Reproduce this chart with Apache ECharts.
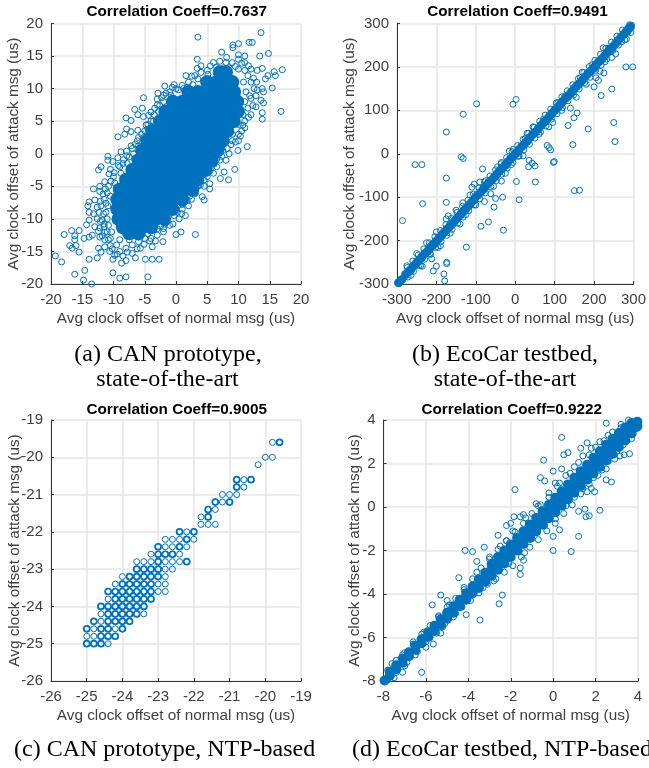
<!DOCTYPE html>
<html><head><meta charset="utf-8">
<style>html,body{margin:0;padding:0;background:#fff}#c{width:649px;height:768px}</style>
<script src="https://cdn.jsdelivr.net/npm/echarts@6/dist/echarts.min.js"></script>
</head><body><div id="c"></div>
<script>
// Panel (a): readable open markers
const aOpen = [[-19.3,-15.7],[-18.3,-16.6],[-17.9,-12.4],[-16.7,-11.8],[-15.5,-11.8],[-16.2,-12.6],[-16.2,-13.2],[-17,-14.1],[-16.6,-14.5],[-16,-14.1],[-15.5,-15.1],[-16.2,-18.5],[-14.6,-17.9],[-14.8,-19.4],[-13.5,-20],[-13.9,-16.2],[-12.6,-16],[-10.1,-16.2],[-10.1,-18.3],[-9,-19.1],[-8,-18.9],[-4.5,-18.9],[-4.9,-16.2],[-3.8,-16.2],[-2.7,-16.2],[-8.7,-16.8],[-8,-16.4],[-6.5,-16],[3.1,-12.4],[0,-12.4],[0.8,-12],[-5.7,-14.5],[-3.8,-14.3],[-2.1,-13.5],
[3.5,17.9],[13.6,18.6],[11.7,17.1],[12.2,17.1],[10,16.9],[9.1,16.7],[9.1,16.3],[7.3,15.6],[14.8,15.4],[13.4,15],[10,15.2],[11,15],[3.4,14.5],[8.1,14.8],[17,12.9],[15.7,12.6],[15.9,12],[14.7,12],[14.3,11.5],[13.8,13.1],[13,12.8],[15.4,10.1],[16.8,6.5],[13.8,5.3],[13.8,6.3],[14,7.8],[13.6,8.2],[12.8,7.2],[13.8,10],[14,9.5],[13,9.8],[11.4,1.1],[9.9,0.5],[9.4,-2.4],[7.7,-2.8],[8.4,-4],[7.1,-3.8],[5.4,-4.6],[5.4,-5.4],[4.5,-7.1],[4.2,-6.6],[3.1,-6.1],
[-5.2,8.6],[-6.6,6.8],[-5.4,7],[-8,5.5],[-7.2,5.1],[-6.1,6],[-5.2,5.7],[-4,6.4],[-4.4,5.9],[-9.3,2.6],[-7.9,3.8],[-8.2,3],[-7.2,3.4],[-6.1,3.6],[-2.9,9.3],[-3,8.4],[-1.8,10.4],[-0.3,10.6],[1.6,12],[2.5,11.9],[3.4,13.1],[4,13.5],[-10.9,-0.4],[-10.9,-1],[-10.1,-1.2],[-9.3,-0.6],[-7.9,-0.3],[-8.8,0.3],[-12,-2],[-12.4,-2.5],[-10.5,-2.4],[-10.7,-3.1],[-11.4,-4.3],[-12.2,-5],[-13.2,-5.4],[-12.2,-5.8],[-13.9,-7.4],[-14.1,-8],[-13,-7.1],[-13.9,-9],[-13.2,-9.2],[-13.9,-10.2],[-14.3,-10.9],[-13,-11.2],[-12.1,-10.4],[-11.6,-9.2],[-11.2,-7.6],[-14.7,-13],[-13.4,-12.5],[-13.9,-12.8],[-12.2,-12.8],[-11.8,-12.6],[-12.4,-14.5],[-12,-15.1],[-11.4,-14.3],[-10.5,-14.1],
[9,2],[8.5,0],[8,-1],[7,-1],[6.5,-2],[6,-3],[5,-3.5],[4.5,-5],[3.5,-5],[3,-6],[2.5,-7],[2,-8],[1,-8.5],[1.5,-9.5],[0.5,-10],[-0.5,-10.8],[-1,-11],[-2,-11.5],[-2,-12],[-3,-12.5],[-4,-13],[-5,-13],[-6,-13.5],[-7,-14],[-8,-14.5],[-9,-15],[-8.5,-15.7],[-9.5,-14],[-10.5,-13],[-11,-12],[-11.5,-11.2],
[12,13],[11,14],[10,14.5],[9,14],[8,14],[7,14.2],[6,14],[5.5,13.5],[11.5,12],[12,11],[12.5,10],[12,8.5],[11.5,7],[12,6],[11,5],[11,4],[10.5,3.5],[10,3],[9.5,1.8],[10,2],
[4,12.5],[3,12],[2,11],[1,10.5],[0,10],[-1,9.5],[-2,9],[-3,7.5],[-3.5,6],[-4.5,4.5],[-5,3.5],[-6,2.5],[-6.5,1.5],[-7,0.8],[-7.5,-0.5],[-8.5,-1.5],[-9,-2],[-10,-3.5],[-10.8,-5],[-11,-6],[-11.5,-7],[-12,-8],[-12.3,-9],[-11,-10],[-11.5,-10.8],
[10.8,11],[11.2,9.5],[11,8],[10.7,6],[10,4.5],[9,3],[7.5,0.5],[6.5,-0.8],[5.5,-2.5],[4.5,-4],[3.2,-5.2],[2.2,-6.5],[1,-7.8],[-0.3,-9.5],[-1.5,-10.5],[-3,-11.5],[-4.5,-12.3],[-6,-12.8],[-7.5,-13.2],[-9,-13.2],[-10.3,-12],[-10.8,-11],[-11.2,-9],[-10.9,-8],[-10.5,-6.5],[-9.8,-4.5],[-8.8,-3],[-7.8,-1.5],[-6.8,0],[-6,1.2],[-5.2,2.5],[-4.5,3.8],[-3.6,5],[-2.8,6.5],[-2,8],[-0.8,9],[1.2,10],[3.5,11.5],[5,12.8],[6.5,13.3],[8.5,13.2],[10,13],[11,12.8],
[-11.4,-12.1],[-10.8,-13.2],[-10.2,-14.6],[-9.4,-15.4],[-7.8,-15.1],[-7,-15.3],[-6.2,-14.6],[-5.1,-13.9],[-4.2,-13.4],[-3.3,-13.4],[-2.5,-11.1],[-1.8,-10.8],[0.2,-9],[0.9,-9.2],[1.8,-7.2],[2.9,-5.1],[3.9,-4.8],[5.2,-2.8],[6.1,-1.6],[7.3,-0.4],[8.2,0.8],[8.8,1.4],[10.3,2.7],[10.7,4.4],[11.6,5.6],[12.3,7.4],[11.8,8.9],[12.8,8.9],[12.4,11.6],[12.9,11],[11.6,13.5],[10.5,13.9],[9.5,13.4],[7.6,13.2],[5.1,12.2],[4.4,11.1],[2.7,10.6],[1.8,10.2],[0.4,9.8],[-0.6,10.2],[-1.6,9.3],[-2.3,8.6],[-2.6,7.4],[-3.4,7],[-4,5],[-4.8,4.4],[-5.5,3],[-6.2,2],[-7.2,1.2],[-7.9,0.4],[-8.4,-0.9],[-9.2,-1.8],[-9.9,-2.9],[-10.4,-4.2],[-11.3,-5.4],[-11.7,-6.2],[-12.1,-7.3],[-12.6,-8.2],[-12.6,-10],[-12.2,-11.4],[-11.8,-10.2],[-12.4,-11.9],[-11.4,-13.2],[-10.6,-15],[-9.8,-15.6]
];
// Panel (a): overlapping mass, where single markers merge
const aMass = [[7,12.5],[8,12.5],[5,11],[6.5,11],[8,11],[9,11],[2,9.5],[3.5,9.5],[5,9.5],[6.5,9.5],[8,9.5],[9.3,9.5],[-0.5,8],[1,8],[2.5,8],[4,8],[5.5,8],[7,8],[8.5,8],[9.8,8],[-1.7,6.5],[-0.2,6.5],[1.3,6.5],[2.8,6.5],[4.3,6.5],[5.8,6.5],[7.3,6.5],[8.8,6.5],[9.9,6.5],[-2.5,5],[-1,5],[0.5,5],[2,5],[3.5,5],[5,5],[6.5,5],[8,5],[9.2,5],[-3.8,3.5],[-2.3,3.5],[-0.8,3.5],[0.7,3.5],[2.2,3.5],[3.7,3.5],[5.2,3.5],[6.7,3.5],[8.2,3.5],[-4.6,2],[-3.1,2],[-1.6,2],[-0.1,2],[1.4,2],[2.9,2],[4.4,2],[5.9,2],[7.4,2],[-5.4,0.5],[-3.9,0.5],[-2.4,0.5],[-0.9,0.5],[0.6,0.5],[2.1,0.5],[3.6,0.5],[5.1,0.5],[6.6,0.5],[-6,-1],[-4.5,-1],[-3,-1],[-1.5,-1],[0,-1],[1.5,-1],[3,-1],[4.5,-1],[5.7,-1],[-7,-2.5],[-5.5,-2.5],[-4,-2.5],[-2.5,-2.5],[-1,-2.5],[0.5,-2.5],[2,-2.5],[3.5,-2.5],[4.7,-2.5],[-8,-4],[-6.5,-4],[-5,-4],[-3.5,-4],[-2,-4],[-0.5,-4],[1,-4],[2.5,-4],[3.4,-4],[-9,-5.5],[-7.5,-5.5],[-6,-5.5],[-4.5,-5.5],[-3,-5.5],[-1.5,-5.5],[0,-5.5],[1.5,-5.5],[2.6,-5.5],[-9.4,-7],[-7.9,-7],[-6.4,-7],[-4.9,-7],[-3.4,-7],[-1.9,-7],[-0.4,-7],[1,-7],[-9.4,-8.5],[-7.9,-8.5],[-6.4,-8.5],[-4.9,-8.5],[-3.4,-8.5],[-1.9,-8.5],[-0.6,-8.5],[-9.2,-10],[-7.7,-10],[-6.2,-10],[-4.7,-10],[-3.2,-10],[-1.9,-10],[-8.5,-11.3],[-7,-11.3],[-5.5,-11.3],[-4,-11.3],[-7.5,-12.2],[-6,-12.2]];

// Panel (b)
const bOpen = [[298,200],[281,200],[223,244],[282,264],[293,279],[225,186],[211,169],[200,154],[218,134],[245,149],[250,72],[253,28],[185,57],[157,94],[149,83],[134,65],[146,21],[150,-85],[163,-84],[81,19],[86,14],[90,9],[97,-20],[99,-18],[51,-65],[50,-28],[43,-22],[35,-15],[34,-30],[3,-64],[10,-106],[2,125],[-6,114],[-98,115],[-132,91],[-175,50],[-254,-25],[-237,-25],[-137,-7],[-132,-11],[-175,-56],[-83,-35],[-104,-70],[-110,-77],[-235,-115],[-175,-112],[-133,-113],[-286,-154],[-170,-143],[-124,-215],[-87,-167],[-68,-157],[-30,-176],[-54,-123],[-32,-100],[-50,-103],[-78,-110],[-35,-63],[-236,-259],[-212,-242],[-208,-270],[-200,-259],[-174,-250],[-174,-253],[-181,-277],[-179,-293],[-196,-216],
[295,296],[290,297],[285,280],[270,258],[262,262],[255,230],[245,222],[238,243],[228,212],[215,190],[205,175],[195,205],[180,160],[170,188],[165,175],[155,130],[140,105],[125,132],[118,100],[108,118],[95,72],[85,62],[72,80],[60,45],[45,62],[30,47],[20,-5],[25,35],[10,-5],[-5,10],[-10,-25],[-15,6],[-25,-45],[-35,-20],[-45,-30],[-55,-75],[-62,-92],[-75,-62],[-90,-65],[-100,-118],[-115,-95],[-125,-140],[-140,-162],[-150,-130],[-165,-183],[-175,-150],[-190,-212],[-200,-180],[-215,-232],[-225,-205],[-240,-258],[-250,-230],[-265,-280],[-275,-258],
[278,262],[262,250],[248,238],[232,218],[218,204],[204,192],[190,176],[176,164],[162,149],[148,135],[134,122],[120,106],[106,92],[92,80],[78,64],[64,50],[50,36],[36,22],[22,9],[8,-6],[-6,-20],[-20,-33],[-34,-47],[-48,-62],[-62,-76],[-76,-90],[-90,-104],[-104,-118],[-118,-131],[-132,-146],[-146,-160],[-160,-174],[-174,-188],[-188,-202],[-202,-216],[-216,-230],[-230,-243],[-244,-257],[-258,-271],[-272,-284],
[-274,-262],[-260,-247],[-246,-233],[-232,-219],[-218,-205],[-204,-191],[-190,-177],[-176,-163],[-162,-149],[-148,-135],[-134,-121],[-120,-107],[-106,-93],[-92,-79],[-78,-65],[-64,-51],[-50,-37],[-36,-23],[-22,-9],[-8,5],[6,19],[20,33],[34,47],[48,61],[62,75],[76,89],[90,103],[104,117],[118,131],[132,145],[146,159],[160,173],[174,187],[188,201],[202,215],[216,229],[230,243],[244,257],[258,271],[272,285]];
const bMass = [[-296,-297],[-288,-290],[-278,-278],[-271,-272],[-265,-267],[-257,-258],[-250,-251],[-243,-244],[-237,-238],[-229,-230],[-222,-224],[-215,-216],[-208,-209],[-201,-202],[-194,-195],[-187,-188],[-180,-181],[-173,-174],[-166,-167],[-159,-160],[-152,-153],[-145,-146],[-138,-139],[-131,-132],[-124,-125],[-117,-118],[-110,-111],[-103,-103],[-96,-96],[-89,-90],[-82,-83],[-75,-75],[-68,-68],[-61,-62],[-54,-55],[-47,-47],[-40,-40],[-33,-34],[-26,-27],[-19,-19],[-12,-12],[-5,-6],[2,1],[9,9],[16,16],[23,22],[30,29],[37,37],[44,44],[51,50],[58,57],[65,65],[72,72],[79,78],[86,85],[93,93],[100,100],[107,106],[114,113],[121,121],[128,128],[135,134],[142,141],[149,149],[156,156],[163,162],[170,169],[177,177],[184,184],[191,190],[198,197],[205,205],[212,212],[219,218],[226,225],[233,233],[240,240],[247,246],[254,253],[261,261],[268,268],[275,275],[282,282],[288,288],[292,292]];

// Panel (c): quantised points, one per lattice cell
const cOpen = [[-19.8,-19.6],[-19.6,-19.6],[-20,-20],[-19.8,-20],[-20.2,-20.2],[-20.8,-20.6],[-20.6,-20.6],[-20.4,-20.6],[-20.8,-20.8],[-20.6,-20.8],[-21.2,-21],[-21,-21],[-20.8,-21],[-21.4,-21.2],[-21.2,-21.2],[-21,-21.2],[-21.6,-21.4],[-21.4,-21.4],[-21.8,-21.6],[-21.6,-21.6],[-21.8,-21.8],[-21.6,-21.8],[-21.4,-21.8],[-22.4,-22],[-22.2,-22],[-22,-22],[-22.8,-22.2],[-22.6,-22.2],[-22.4,-22.2],[-22.2,-22.2],[-22,-22.2],[-23,-22.4],[-22.8,-22.4],[-22.6,-22.4],[-22.4,-22.4],[-22.2,-22.4],[-23.2,-22.6],[-23,-22.6],[-22.8,-22.6],[-22.6,-22.6],[-22.4,-22.6],[-23.6,-22.8],[-23.4,-22.8],[-23.2,-22.8],[-23,-22.8],[-22.8,-22.8],[-22.6,-22.8],[-22.4,-22.8],[-22.2,-22.8],[-23.6,-23],[-23.4,-23],[-23.2,-23],[-23,-23],[-22.8,-23],[-22.6,-23],[-24,-23.2],[-23.8,-23.2],[-23.6,-23.2],[-23.4,-23.2],[-23.2,-23.2],[-23,-23.2],[-22.8,-23.2],[-24.2,-23.4],[-24,-23.4],[-23.8,-23.4],[-23.6,-23.4],[-23.4,-23.4],[-23.2,-23.4],[-23,-23.4],[-22.8,-23.4],[-24.4,-23.6],[-24.2,-23.6],[-24,-23.6],[-23.8,-23.6],[-23.6,-23.6],[-23.4,-23.6],[-23.2,-23.6],[-23,-23.6],[-22.8,-23.6],[-24.4,-23.8],[-24.2,-23.8],[-24,-23.8],[-23.8,-23.8],[-23.6,-23.8],[-23.4,-23.8],[-23.2,-23.8],[-24.6,-24],[-24.4,-24],[-24.2,-24],[-24,-24],[-23.8,-24],[-23.6,-24],[-23.4,-24],[-24.6,-24.2],[-24.4,-24.2],[-24.2,-24.2],[-24,-24.2],[-23.8,-24.2],[-23.6,-24.2],[-23.4,-24.2],[-24.8,-24.4],[-24.6,-24.4],[-24.4,-24.4],[-24.2,-24.4],[-24,-24.4],[-23.8,-24.4],[-25,-24.6],[-24.8,-24.6],[-24.6,-24.6],[-24.4,-24.6],[-24.2,-24.6],[-24,-24.6],[-25,-24.8],[-24.8,-24.8],[-24.6,-24.8],[-24.4,-24.8],[-24.2,-24.8],[-25,-25],[-24.8,-25],[-24.6,-25],[-24.4,-25]];
// Panel (c): cells holding repeated samples, which print darker
const cHeavy = [[-19.6,-19.6],[-20.8,-20.6],[-20.4,-20.6],[-20.8,-20.8],[-21.4,-21.2],[-21,-21.2],[-21.6,-21.4],[-21.6,-21.6],[-22.4,-22],[-22,-22],[-22.2,-22.2],[-23,-22.4],[-22.4,-22.4],[-23,-22.6],[-22.8,-22.6],[-22.6,-22.6],[-23,-22.8],[-22.2,-22.8],[-23.6,-23],[-23.4,-23],[-23.2,-23],[-23,-23],[-23.8,-23.2],[-23.6,-23.2],[-23.4,-23.2],[-23.2,-23.2],[-23,-23.2],[-24,-23.4],[-23.8,-23.4],[-23.6,-23.4],[-23.4,-23.4],[-23.2,-23.4],[-24.4,-23.6],[-24.2,-23.6],[-24,-23.6],[-23.8,-23.6],[-23.6,-23.6],[-23.4,-23.6],[-23.2,-23.6],[-24.2,-23.8],[-24,-23.8],[-23.8,-23.8],[-23.6,-23.8],[-23.4,-23.8],[-23.2,-23.8],[-24.6,-24],[-24.4,-24],[-24.2,-24],[-24,-24],[-23.8,-24],[-23.6,-24],[-23.4,-24],[-24.4,-24.2],[-24.2,-24.2],[-24,-24.2],[-23.8,-24.2],[-23.6,-24.2],[-24.8,-24.4],[-24.4,-24.4],[-24.2,-24.4],[-24,-24.4],[-23.8,-24.4],[-25,-24.6],[-24.6,-24.6],[-24.4,-24.6],[-24,-24.6],[-24.6,-24.8],[-24.4,-24.8],[-24.2,-24.8],[-25,-25],[-24.8,-25],[-24.6,-25]];

// Panel (d)
const dOpen = [[2.5,3.85],[3.55,4],[0.4,3.2],[0.5,2.4],[0.7,2.5],[1.3,2.7],[1.6,2.95],[-0.45,2.15],[0.4,1.75],[0,1.65],[-0.6,1.35],[-0.4,1.2],[0.1,1.1],[-1.8,0.8],[2.75,1.15],[2.5,1.25],[3.6,2.45],[3.35,2.4],[3.15,2.35],[2.2,-0.15],[1.5,-0.1],[1.2,-0.2],[1.55,-0.45],[1.7,-0.4],[1.6,0.7],[1.95,0.7],[1.8,0.85],[0.3,-1.05],[0,-1.35],[0,-2],[0.85,-2.05],[1.2,-1.35],[-1.4,-0.35],[-1.55,-0.45],[-1.85,-0.45],[-2,-0.75],[-2.2,-0.85],[-2.6,-1.3],[-2.2,-1.55],[-4.15,-2],[-3.8,-2.05],[-3.25,-1.85],[-3.6,-2.5],[-4.45,-3.25],[-5.3,-4.05],[-5.7,-4.5],[-5,-4.3],[-4.1,-4.95],[-3.45,-5.2],[-2.4,-4.05],[-2.55,-4.45],[-1.4,-2.45],[-1.55,-2.8],[-1.55,-3.1],[-1.35,-2.1],[-5.65,-6.3],[-6,-6.45],[-5.3,-5.8],[-6.2,-7.6],[-7.1,-7.6],[-0.7,0.05],
[3.9,3.6],[3.7,3.15],[3.5,3.75],[3.2,3.65],[3,2.55],[2.8,3.45],[2.6,2.1],[2.4,3.05],[2.3,1.7],[2,2.75],[1.9,1.35],[1.7,2.4],[1.4,0.85],[1.2,2.05],[1,0.45],[0.8,1.55],[0.6,0.05],[0.3,1.1],[0.1,-0.55],[-0.2,0.65],[-0.4,-0.85],[-0.8,0.15],[-1,-1.45],[-1.3,-0.5],[-1.6,-2.05],[-1.9,-1.1],[-2.1,-2.6],[-2.5,-1.8],[-2.8,-3.4],[-3,-2.4],[-3.3,-3.7],[-3.6,-3],[-3.9,-4.3],[-4.2,-3.7],[-4.6,-4.9],[-4.9,-4.5],[-5.2,-5.5],[-5.4,-5.05],[-5.8,-6],[-6.1,-5.75],[-6.4,-6.65],[-6.6,-6.2],[-6.9,-7.15],[-7.1,-6.8],[-7.4,-7.6],[-7.6,-7.2],[-7.8,-7.95],
[3.3,2.85],[2.9,2.2],[2.5,1.75],[2.1,1.45],[1.7,1.05],[1.3,0.6],[0.9,0.1],[0.5,-0.3],[0.1,-0.75],[-0.3,-1.1],[-0.7,-1.5],[-1.1,-1.85],[-1.5,-2.3],[-1.9,-2.7],[-2.3,-3],[-2.7,-3.3],[-3.1,-3.55],[-3.5,-3.95],[-3.9,-4.1],[-4.3,-4.6],[-4.7,-5.05],[-5.1,-5.35],[-5.5,-5.8],[-6,-6.2],[-6.5,-6.8],[-7,-7.3],[-7.5,-7.85],
[3.2,3.8],[2.6,3.3],[2.2,3],[1.8,2.7],[1.4,2.35],[1,1.85],[0.6,1.45],[0.2,0.95],[-0.2,0.45],[-0.6,0.1],[-1,-0.3],[-1.4,-0.75],[-1.8,-1.15],[-2.2,-1.55],[-2.6,-1.95],[-3,-2.3],[-3.4,-2.8],[-3.8,-3.3],[-4.2,-3.8],[-4.6,-4.2],[-5,-4.6],[-5.4,-5],[-5.8,-5.45],[-6.2,-5.85],[-6.6,-6.3],[-7,-6.7],[-7.4,-7.05],[-7.8,-7.5]];
const dMass = [[-7.95,-7.98],[-7.7,-7.76],[-7.7,-7.58],[-7.4,-7.46],[-7.4,-7.28],[-7.1,-7.16],[-7.1,-6.98],[-6.8,-6.86],[-6.8,-6.68],[-6.5,-6.56],[-6.5,-6.38],[-6.2,-6.26],[-6.2,-6.08],[-5.9,-5.98],[-5.9,-5.76],[-5.6,-5.7],[-5.6,-5.46],[-5.3,-5.42],[-5.3,-5.16],[-5,-5.14],[-5,-4.86],[-4.7,-4.86],[-4.7,-4.56],[-4.4,-4.56],[-4.4,-4.26],[-4.1,-4.26],[-4.1,-3.96],[-3.8,-3.96],[-3.8,-3.66],[-3.5,-3.72],[-3.5,-3.32],[-3.2,-3.44],[-3.2,-3.02],[-2.9,-3.16],[-2.9,-2.86],[-2.9,-2.62],[-2.6,-2.88],[-2.6,-2.58],[-2.6,-2.3],[-2.3,-2.6],[-2.3,-2.28],[-2.3,-2],[-2,-2.3],[-2,-2],[-2,-1.72],[-1.7,-2],[-1.7,-1.7],[-1.7,-1.42],[-1.4,-1.7],[-1.4,-1.4],[-1.4,-1.12],[-1.1,-1.42],[-1.1,-1.1],[-1.1,-0.8],[-0.8,-1.12],[-0.8,-0.8],[-0.8,-0.5],[-0.5,-0.82],[-0.5,-0.5],[-0.5,-0.2],[-0.2,-0.52],[-0.2,-0.2],[-0.2,0.1],[0.1,-0.24],[0.1,0.1],[0.1,0.42],[0.4,0.06],[0.4,0.4],[0.4,0.72],[0.7,0.36],[0.7,0.7],[0.7,1.04],[1,0.66],[1,1],[1,1.34],[1.3,0.96],[1.3,1.3],[1.3,1.64],[1.6,1.26],[1.6,1.6],[1.6,1.94],[1.9,1.54],[1.9,1.9],[1.9,2.26],[2.2,1.84],[2.2,2.2],[2.2,2.56],[2.5,2.14],[2.5,2.5],[2.5,2.86],[2.8,2.44],[2.8,2.8],[2.8,3.14],[3.1,2.76],[3.1,3.08],[3.1,3.4],[3.4,3.06],[3.4,3.38],[3.4,3.66],[3.7,3.38],[3.7,3.66],[3.7,3.86],[3.97,3.7],[3.97,3.92]];

const titles = ['Correlation Coeff=0.7637','Correlation Coeff=0.9491','Correlation Coeff=0.9005','Correlation Coeff=0.9222'];
const xName = 'Avg clock offset of normal msg (us)';
const yName = 'Avg clock offset of attack msg (us)';

const blue = '#0072BD';
const textCol = '#404040';
const sans = 'Liberation Sans';
const rects = [
  {left:51,  top:23.5, width:250,   height:260.5},
  {left:397, top:23.5, width:241,   height:260.5},
  {left:51,  top:420,  width:250,   height:261},
  {left:383.5,top:420, width:254.5, height:261}
];
const ranges = [[-20,20,5,-20,20,5],[-300,300,100,-300,300,100],[-26,-19,1,-26,-19,1],[-8,4,2,-8,4,2]];
const titleX = [176.7,517.5,176.7,511.7];
const titleY = [4,4,402,402];
const yGaps = [29.4,39.4,28.4,21];

function axis(min,max,step,name,gap){
  return {type:'value',min,max,interval:step,name,nameLocation:'middle',nameGap:gap,nameMoveOverlap:false,
    nameTextStyle:{color:textCol,fontFamily:sans,fontSize:15.3},
    axisLine:{show:true,onZero:false,lineStyle:{color:'#333',width:1}},
    axisTick:{show:true,inside:true,length:3,lineStyle:{color:'#333',width:1}},
    axisLabel:{color:textCol,fontFamily:sans,fontSize:15,margin:8,showMinLabel:true,showMaxLabel:true,hideOverlap:false},
    splitLine:{show:true,lineStyle:{color:'#e6e6e6',width:1.5}}};
}
function openS(i,data,w){
  return {type:'scatter',xAxisIndex:i,yAxisIndex:i,data,symbol:'circle',symbolSize:6,clip:false,silent:true,
    itemStyle:{color:'rgba(0,0,0,0)',borderColor:blue,borderWidth:w||1,opacity:1}};
}
function massS(i,data,size){
  return {type:'scatter',xAxisIndex:i,yAxisIndex:i,data,symbol:'circle',symbolSize:size,clip:false,silent:true,
    itemStyle:{color:blue,borderWidth:0,opacity:1}};
}
function cap(text,x,y,align){
  return {type:'text',x,y,silent:true,style:{text,fill:'#000',font:'24px "Liberation Serif"',textAlign:align,textVerticalAlign:'middle'}};
}
const chart = echarts.init(document.getElementById('c'),null,{renderer:'canvas'});
chart.setOption({
  animation:false,backgroundColor:'#fff',
  title:titles.map((t,i)=>({text:t,left:titleX[i],top:titleY[i],textAlign:'center',padding:0,
    textStyle:{fontFamily:sans,fontSize:15.3,fontWeight:'bold',color:'#000'}})),
  grid:rects.map(r=>({...r,containLabel:false})),
  xAxis:ranges.map((r,i)=>({gridIndex:i,...axis(r[0],r[1],r[2],xName,27)})),
  yAxis:ranges.map((r,i)=>({gridIndex:i,...axis(r[3],r[4],r[5],yName,yGaps[i])})),
  series:[
    massS(0,aMass,14),openS(0,aOpen),
    massS(1,bMass,9),openS(1,bOpen),
    openS(2,cOpen),openS(2,cHeavy,1.7),
    massS(3,dMass,10),openS(3,dOpen)
  ],
  graphic:[
    cap('(a) CAN prototype,',168,355,'center'),
    cap('state-of-the-art',167.5,380,'center'),
    cap('(b) EcoCar testbed,',505,355,'center'),
    cap('state-of-the-art',505,380,'center'),
    cap('(c) CAN prototype, NTP-based',14,750,'left'),
    cap('(d) EcoCar testbed, NTP-based',352,750,'left')
  ]
});
</script></body></html>
